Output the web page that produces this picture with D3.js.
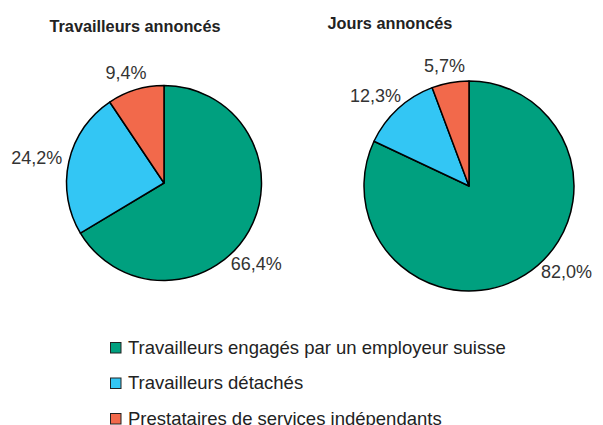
<!DOCTYPE html>
<html>
<head>
<meta charset="utf-8">
<script src="https://cdn.jsdelivr.net/npm/d3@7"></script>
<style>
  body { margin: 0; background: #fff; }
  svg { display: block; font-family: "Liberation Sans", Arial, sans-serif; }
</style>
</head>
<body>
<svg id="chart" width="603" height="425"></svg>
<script>
"use strict";

const categories = [
  'Travailleurs engagés par un employeur suisse',
  'Travailleurs détachés',
  'Prestataires de services indépendants'
];
const colors = ['#00A07F', '#33C6F4', '#F2694B'];

const titles = ['Travailleurs annoncés', 'Jours annoncés'];
const workersShare = [66.4, 24.2, 9.4];
const daysShare = [82.0, 12.3, 5.7];

const svg = d3.select('#chart');
const fmt = (v) => d3.format('.1f')(v).replace('.', ',') + '%';

const pies = [
  { title: titles[0], values: workersShare, cx: 164, cy: 183, r: 97.5, titleX: 135, titleY: 31.5 },
  { title: titles[1], values: daysShare, cx: 469, cy: 186, r: 105, titleX: 390, titleY: 28.5 }
];

const pie = d3.pie().sort(null).value((d) => d);

pies.forEach((p) => {
  svg.append('text')
    .attr('x', p.titleX)
    .attr('y', p.titleY)
    .attr('text-anchor', 'middle')
    .attr('font-size', 16.3)
    .attr('font-weight', 'bold')
    .attr('fill', '#222')
    .text(p.title);

  let g = svg.append('g').attr('transform', 'translate(' + p.cx + ',' + p.cy + ')');
  let arc = d3.arc().innerRadius(0).outerRadius(p.r);
  let arcs = pie(p.values);

  g.selectAll('path')
    .data(arcs)
    .enter()
    .append('path')
    .attr('d', arc)
    .attr('fill', (d, i) => colors[i])
    .attr('stroke', '#000')
    .attr('stroke-width', 1.5)
    .attr('stroke-linejoin', 'round');

  // label box touches a point just outside the rim; the dominant slice
  // gets its label on the lower-right diagonal (like Excel's best fit)
  let labelAngle = (d) => (d.data > 50 ? Math.PI * 0.75 : (d.startAngle + d.endAngle) / 2);
  let labelPos = (d) => {
    let a = labelAngle(d), s = Math.sin(a), c = -Math.cos(a);
    let rr = p.r + 8;
    return [s * rr + s * 25, c * rr + c * 9];
  };

  g.selectAll('text.lbl')
    .data(arcs)
    .enter()
    .append('text')
    .attr('class', 'lbl')
    .attr('font-size', 18)
    .attr('fill', '#333')
    .attr('text-anchor', 'middle')
    .attr('dominant-baseline', 'central')
    .attr('x', (d) => labelPos(d)[0])
    .attr('y', (d) => labelPos(d)[1])
    .text((d) => fmt(d.data));
});

// legend
let legend = svg.append('g').attr('transform', 'translate(110.5,342.5)');
let row = legend.selectAll('g')
  .data(categories)
  .enter()
  .append('g')
  .attr('transform', (d, i) => 'translate(0,' + i * 35.5 + ')');

row.append('rect')
  .attr('width', 10.5)
  .attr('height', 10.5)
  .attr('fill', (d, i) => colors[i])
  .attr('stroke', '#222')
  .attr('stroke-width', 1);

row.append('text')
  .attr('x', 17.5)
  .attr('y', 11)
  .attr('font-size', 18.5)
  .attr('fill', '#222')
  .text((d) => d);
</script>
</body>
</html>
